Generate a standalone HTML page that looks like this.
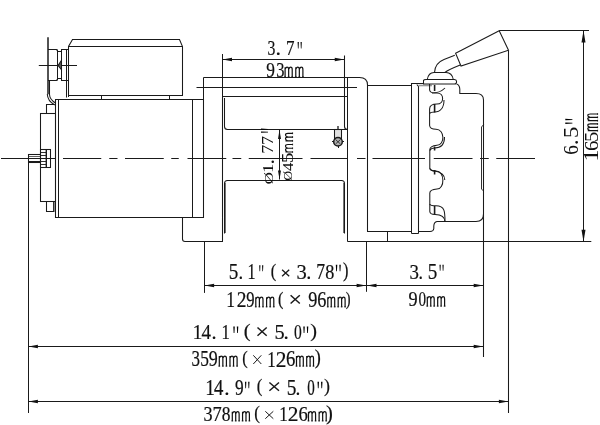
<!DOCTYPE html>
<html><head><meta charset="utf-8"><style>
html,body{margin:0;padding:0;background:#fff;}
svg{display:block;will-change:transform;}
text{font-family:"Liberation Serif",serif;font-size:2048px;fill:#111;stroke:#111;stroke-width:0.2px;vector-effect:non-scaling-stroke;}
.r text{stroke-width:0px;}
.g{fill:#000;}
.x{fill:none;stroke:#1a1a1a;}
.m{fill:none;stroke:#111;stroke-width:1.2;}
.mf{fill:none;stroke:#1a1a1a;stroke-width:0.8;}
</style></head><body>
<svg width="600" height="425" viewBox="0 0 600 425">
<g fill="none" stroke="#1a1a1a" stroke-width="1.05" stroke-linecap="butt">
<path d="M72.5 39.5 H179.5 L182.5 46.5 V95.5 H68.5 V46.5 Z" />
<line x1="68.5" y1="46.5" x2="182.5" y2="46.5"/>
<line x1="101.5" y1="95.5" x2="101.5" y2="99.5"/>
<line x1="169.5" y1="95.5" x2="169.5" y2="99.5"/>
<line x1="48" y1="37.2" x2="48" y2="94.2" stroke-width="1.5"/>
<path d="M49.5 80.5 V94.5 Q49.7 99.5 55.5 103" />
<path d="M47.3 94 Q47.5 101 54.8 105" />
<path d="M48 49.5 H56.5 L57.8 51.5 H61.5 V49.5 H68.5 M48 80.5 H56.5 L57.8 78.5 H61.5 V80.5 H68.5" />
<line x1="57.5" y1="49.5" x2="57.5" y2="80.5"/>
<line x1="61.5" y1="49.5" x2="61.5" y2="80.5"/>
<line x1="66.5" y1="49.5" x2="66.5" y2="97.5"/>
<line x1="68.5" y1="80.5" x2="68.5" y2="97"/>
<line x1="38.8" y1="65.5" x2="77" y2="65.5"/>
<path d="M61.5 60.2 L58.1 65.5 L61.5 69.8 Z" fill="#555"/>
<path d="M55.5 99.5 H203.5 V217.5 H55.5 Z" />
<line x1="58.5" y1="99.5" x2="58.5" y2="217.5"/>
<line x1="192.5" y1="99.5" x2="192.5" y2="217.5"/>
<path d="M54.5 104.5 H46.5 V113.5 H54.5" />
<path d="M54.5 201.5 H46.5 V211.5 H54.5" />
<path d="M53.8 202 V211" stroke-width="1.4"/>
<rect x="40.5" y="113.5" width="15" height="88" />
<rect x="28.5" y="154.5" width="12" height="8" />
<line x1="29" y1="156.5" x2="40" y2="156.5" stroke-width="0.7"/>
<line x1="29" y1="161.5" x2="40" y2="161.5" stroke-width="1.0"/>
<rect x="40.5" y="149.5" width="10" height="18" />
<line x1="46.3" y1="149.5" x2="46.3" y2="167.5" stroke-width="1.4"/>
<line x1="40.5" y1="152.5" x2="46" y2="152.5" stroke-width="0.9"/>
<line x1="40.5" y1="155.5" x2="46" y2="155.5" stroke-width="0.9"/>
<line x1="40.5" y1="161.5" x2="46" y2="161.5" stroke-width="0.9"/>
<line x1="40.5" y1="164.5" x2="46" y2="164.5" stroke-width="0.9"/>
<line x1="28.5" y1="162.5" x2="28.5" y2="413"/>
<path d="M203.5 217.5 H182.5 V239 Q182.5 241.5 185 241.5 H222.5 V97" />
<line x1="203.5" y1="77.5" x2="203.5" y2="217.5"/>
<path d="M203.5 77.5 H359.5 Q367.5 77.5 367.5 85 V231.5 H411.5" />
<line x1="196.5" y1="87.5" x2="357" y2="87.5"/>
<line x1="222.5" y1="54" x2="222.5" y2="241.5"/>
<line x1="222.5" y1="96.5" x2="347.5" y2="96.5"/>
<path d="M224.5 98 V126.5 Q224.5 129.5 227.5 129.5 H347.5" />
<path d="M344.5 55.5 V126.5 Q344.5 129.5 347.5 129.5" />
<path d="M224.5 233.5 V183.5 Q224.5 180.5 227.5 180.5 H341.5 Q344.5 180.5 344.5 183.5 V233.5" />
<line x1="225.5" y1="183" x2="225.5" y2="233" stroke-width="0.6"/>
<line x1="343.5" y1="183" x2="343.5" y2="233" stroke-width="0.6"/>
<line x1="347.5" y1="77.5" x2="347.5" y2="241.5"/>
<line x1="387.5" y1="231.5" x2="387.5" y2="241.5"/>
<line x1="367.5" y1="85.5" x2="411.5" y2="85.5"/>
<path d="M411.5 85.5 V83.5 H423" />
<line x1="411.5" y1="83.5" x2="411.5" y2="233.5"/>
<path d="M416.8 84.5 L418.5 86.5 V233.5" />
<line x1="411.5" y1="233.5" x2="418.5" y2="233.5"/>
<path d="M418.5 85.5 H432" stroke-width="1.6" stroke="#999"/>
<path d="M423.5 84 V80.5 Q423.8 79.5 426 79.5 H454.5 Q456.6 79.7 456.6 81.7 Q456.6 84 454.5 84 Z" />
<path d="M427.3 79.5 Q428.5 72.5 434 72.5 H446 Q452 72.5 453.3 79.5" />
<path d="M434.5 72.5 Q435 63 444 59.5 L454.8 55.3" />
<path d="M444.9 72.5 Q448 70 460.2 65.1" />
<path d="M455.6 53.3 L499.2 30.8 L508.5 50.2 L461 66 Z" />
<line x1="508.5" y1="50.2" x2="508.5" y2="413"/>
<path d="M456.6 84 Q459.6 85 459.8 89 V93.5 H476 Q483.5 93.5 483.5 100 V357" />
<path d="M483.5 124.75 L481.5 127 V189 L483.5 191" stroke-width="0.9"/>
<path d="M483.5 214 Q483.5 221.5 476 221.5 H437 Q434 222 433.8 226 V228.5 Q433.5 231.5 430 231.5 H418.5" />
<path d="M429.6 84 V90 Q430 93 435 93 H437 C444.5 93 444.5 104 437 104 Q429.6 104 429.6 109 V125.5 Q430 129.3 436 129.3 C445 129.3 445 145.3 437 145.3 Q429.8 146 429.8 150 V168.4 Q430 171 436 171 C445 171 445 189 437 189 Q429.8 189.5 429.8 193 V204 Q430 205.8 436 205.8 C445 205.8 445 212 445 221.8" />
<path d="M432 93 Q440 93 445 88" />
<path d="M429.6 113.5 Q430.5 112 434.6 112 C440 112 444 108 444 100" />
<path d="M429.8 150.5 Q431 148 434.6 148 C441 148 444.5 144 444.5 137" />
<path d="M429.8 168.4 Q431 171 434.6 171 C441 172 444.8 175 444.8 180" />
<path d="M429.8 204 V211.5 Q430 214.5 435 214.5 C441 214.5 444.8 217 445 221.8" />
<line x1="434.6" y1="85" x2="434.6" y2="91" stroke-width="1.6"/>
<line x1="434.6" y1="104" x2="434.6" y2="112.5" stroke-width="1.6"/>
<line x1="434.6" y1="146.5" x2="434.6" y2="150.5" stroke-width="1.6"/>
<line x1="434.6" y1="170" x2="434.6" y2="174.5" stroke-width="1.6"/>
<line x1="434.6" y1="206" x2="434.6" y2="214.5" stroke-width="1.6"/>
<line x1="347.5" y1="241.5" x2="591.3" y2="241.5"/>
<rect x="334.5" y="129.5" width="7" height="9" fill="#e0e0e0"/>
<line x1="338" y1="126" x2="338" y2="129.5" stroke-width="1.3"/>
<circle cx="338" cy="141.8" r="4.3" fill="#b0b0b0" stroke-width="1.5"/>
<path d="M335.5 139.5 L340.5 144 M340.5 139.5 L335.5 144" stroke-width="0.8"/>
<line x1="332" y1="141.5" x2="333.8" y2="141.5" stroke-width="1.0"/>
<line x1="342.2" y1="141.5" x2="344" y2="141.5" stroke-width="1.0"/>
<line x1="338.5" y1="146" x2="338.5" y2="148" stroke-width="1.0"/>
<line x1="1" y1="158.5" x2="55.3" y2="158.5"/>
<line x1="63" y1="158.5" x2="101.25" y2="158.5"/>
<line x1="109.25" y1="158.5" x2="117.5" y2="158.5"/>
<line x1="125" y1="158.5" x2="163.75" y2="158.5"/>
<line x1="171.25" y1="158.5" x2="178.75" y2="158.5"/>
<line x1="187.5" y1="158.5" x2="226.25" y2="158.5"/>
<line x1="232.5" y1="158.5" x2="241.25" y2="158.5"/>
<line x1="248.75" y1="158.5" x2="302.5" y2="158.5"/>
<line x1="310.5" y1="158.5" x2="347.5" y2="158.5"/>
<line x1="357" y1="158.5" x2="365.5" y2="158.5"/>
<line x1="372.5" y1="158.5" x2="425" y2="158.5"/>
<line x1="433.75" y1="158.5" x2="472.5" y2="158.5"/>
<line x1="480" y1="158.5" x2="488.75" y2="158.5"/>
<line x1="496.25" y1="158.5" x2="535" y2="158.5"/>
<line x1="222.5" y1="59.5" x2="344.25" y2="59.5"/>
<path d="M222.5 59.5 L232.0 57.8 L232.0 61.2 Z" fill="#111" stroke="none"/>
<path d="M344.25 59.5 L334.75 57.8 L334.75 61.2 Z" fill="#111" stroke="none"/>
<line x1="499.2" y1="30.5" x2="589" y2="30.5"/>
<line x1="583.5" y1="30.6" x2="583.5" y2="241.7"/>
<path d="M583.5 30.6 L581.5 42.6 L585.5 42.6 Z" fill="#111" stroke="none"/>
<path d="M583.5 241.7 L581.5 229.7 L585.5 229.7 Z" fill="#111" stroke="none"/>
<line x1="279.5" y1="130" x2="279.5" y2="179.5"/>
<path d="M279.5 130 L278.0 139 L281.0 139 Z" fill="#111" stroke="none"/>
<path d="M279.5 179.5 L278.0 170.5 L281.0 170.5 Z" fill="#111" stroke="none"/>
<line x1="204.5" y1="241.7" x2="204.5" y2="292.9"/>
<line x1="366.5" y1="241.7" x2="366.5" y2="291.8"/>
<line x1="204.2" y1="285.5" x2="483.2" y2="285.5"/>
<path d="M204.6 285.5 L214.1 283.8 L214.1 287.2 Z" fill="#111" stroke="none"/>
<path d="M366.1 285.5 L356.6 283.8 L356.6 287.2 Z" fill="#111" stroke="none"/>
<path d="M367 285.5 L376.5 283.8 L376.5 287.2 Z" fill="#111" stroke="none"/>
<path d="M483.2 285.5 L473.7 283.8 L473.7 287.2 Z" fill="#111" stroke="none"/>
<line x1="28.4" y1="346.5" x2="483.2" y2="346.5"/>
<path d="M28.4 346.5 L37.9 344.8 L37.9 348.2 Z" fill="#111" stroke="none"/>
<path d="M483.2 346.5 L473.7 344.8 L473.7 348.2 Z" fill="#111" stroke="none"/>
<line x1="28.4" y1="401.5" x2="508.4" y2="401.5"/>
<path d="M28.4 401.5 L37.9 399.8 L37.9 403.2 Z" fill="#111" stroke="none"/>
<path d="M508.4 401.5 L498.9 399.8 L498.9 403.2 Z" fill="#111" stroke="none"/>
</g>
<g>
<text transform="matrix(0.007683 0 0 0.010029 267.547 55.099)">3</text>
<text transform="matrix(0.010744 0 0 0.010744 275.550 54.988)">.</text>
<text transform="matrix(0.008313 0 0 0.010291 285.878 55.300)">7</text>
<path class="g" d="M297.60 42.00 h1.26 l-0.31 6.50 h-0.63 Z M300.54 42.00 h1.26 l-0.31 6.50 h-0.63 Z"/>
<text transform="matrix(0.008467 0 0 0.010683 266.341 76.986)">9</text>
<text transform="matrix(0.008038 0 0 0.010683 276.212 76.986)">3</text>
<path class="m" d="M285.10 77.20 V67.20 M285.10 69.20 Q286.17 67.00 287.24 67.20 Q288.66 67.20 288.66 69.70 V77.20 M288.66 69.20 Q289.73 67.00 290.80 67.20 Q292.22 67.20 292.22 69.70 V77.20 M295.78 77.20 V67.20 M295.78 69.20 Q296.85 67.00 297.92 67.20 Q299.34 67.20 299.34 69.70 V77.20 M299.34 69.20 Q300.41 67.00 301.48 67.20 Q302.90 67.20 302.90 69.70 V77.20 "/><path class="mf" d="M284.20 76.80 h1.8 M287.76 76.80 h1.8 M291.32 76.80 h1.8 M294.88 76.80 h1.8 M298.44 76.80 h1.8 M302.00 76.80 h1.8"/>
<text transform="matrix(0.009333 0 0 0.010801 228.789 278.784)">5</text>
<text transform="matrix(0.009091 0 0 0.010744 238.573 278.688)">.</text>
<text transform="matrix(0.007906 0 0 0.010873 247.477 279.000)">1</text>
<path class="g" d="M259.20 265.30 h1.23 l-0.31 6.00 h-0.62 Z M262.07 265.30 h1.23 l-0.31 6.00 h-0.62 Z"/>
<text transform="matrix(0.007985 0 0 0.009585 270.781 276.921)">(</text>
<path class="x" stroke-width="1.3" d="M282.10 269.70 L289.20 276.30 M289.20 269.70 L282.10 276.30"/>
<text transform="matrix(0.010047 0 0 0.010683 296.615 278.786)">3</text>
<text transform="matrix(0.009917 0 0 0.010744 306.161 278.688)">.</text>
<text transform="matrix(0.008554 0 0 0.010962 316.245 279.000)">7</text>
<text transform="matrix(0.008871 0 0 0.010637 325.208 278.787)">8</text>
<path class="g" d="M335.80 264.70 h1.50 l-0.38 6.60 h-0.75 Z M339.30 264.70 h1.50 l-0.38 6.60 h-0.75 Z"/>
<text transform="matrix(0.007985 0 0 0.009855 342.973 276.803)">)</text>
<text transform="matrix(0.008599 0 0 0.010947 226.252 307.200)">1</text>
<text transform="matrix(0.009501 0 0 0.010914 236.745 307.200)">2</text>
<text transform="matrix(0.008124 0 0 0.010756 246.264 306.985)">9</text>
<path class="m" d="M255.80 307.20 V297.14 M255.80 299.14 Q256.88 296.94 257.96 297.14 Q259.40 297.14 259.40 299.64 V307.20 M259.40 299.14 Q260.48 296.94 261.56 297.14 Q263.00 297.14 263.00 299.64 V307.20 M266.60 307.20 V297.14 M266.60 299.14 Q267.68 296.94 268.76 297.14 Q270.20 297.14 270.20 299.64 V307.20 M270.20 299.14 Q271.28 296.94 272.36 297.14 Q273.80 297.14 273.80 299.64 V307.20 "/><path class="mf" d="M254.90 306.80 h1.8 M258.50 306.80 h1.8 M262.10 306.80 h1.8 M265.70 306.80 h1.8 M269.30 306.80 h1.8 M272.90 306.80 h1.8"/>
<text transform="matrix(0.007985 0 0 0.009478 277.881 305.168)">(</text>
<path class="x" stroke-width="1.5" d="M290.60 295.20 L299.80 303.50 M299.80 295.20 L290.60 303.50"/>
<text transform="matrix(0.008924 0 0 0.010756 308.311 306.985)">9</text>
<text transform="matrix(0.008914 0 0 0.010756 317.316 306.985)">6</text>
<path class="m" d="M327.80 307.20 V297.14 M327.80 299.14 Q328.84 296.94 329.88 297.14 Q331.26 297.14 331.26 299.64 V307.20 M331.26 299.14 Q332.30 296.94 333.34 297.14 Q334.72 297.14 334.72 299.64 V307.20 M338.18 307.20 V297.14 M338.18 299.14 Q339.22 296.94 340.26 297.14 Q341.64 297.14 341.64 299.64 V307.20 M341.64 299.14 Q342.68 296.94 343.72 297.14 Q345.10 297.14 345.10 299.64 V307.20 "/><path class="mf" d="M326.90 306.80 h1.8 M330.36 306.80 h1.8 M333.82 306.80 h1.8 M337.28 306.80 h1.8 M340.74 306.80 h1.8 M344.20 306.80 h1.8"/>
<text transform="matrix(0.007034 0 0 0.009478 345.836 305.168)">)</text>
<text transform="matrix(0.009220 0 0 0.010683 409.596 278.786)">3</text>
<text transform="matrix(0.008678 0 0 0.010744 418.529 278.688)">.</text>
<text transform="matrix(0.009333 0 0 0.010801 427.789 278.784)">5</text>
<path class="g" d="M439.50 264.70 h1.26 l-0.31 6.10 h-0.63 Z M442.44 264.70 h1.26 l-0.31 6.10 h-0.63 Z"/>
<text transform="matrix(0.008924 0 0 0.010538 408.511 306.289)">9</text>
<text transform="matrix(0.007373 0 0 0.010492 418.425 306.290)">0</text>
<path class="m" d="M427.30 306.50 V296.64 M427.30 298.64 Q428.34 296.44 429.38 296.64 Q430.76 296.64 430.76 299.14 V306.50 M430.76 298.64 Q431.80 296.44 432.84 296.64 Q434.22 296.64 434.22 299.14 V306.50 M437.68 306.50 V296.64 M437.68 298.64 Q438.72 296.44 439.76 296.64 Q441.14 296.64 441.14 299.14 V306.50 M441.14 298.64 Q442.18 296.44 443.22 296.64 Q444.60 296.64 444.60 299.14 V306.50 "/><path class="mf" d="M426.40 306.10 h1.8 M429.86 306.10 h1.8 M433.32 306.10 h1.8 M436.78 306.10 h1.8 M440.24 306.10 h1.8 M443.70 306.10 h1.8"/>
<text transform="matrix(0.009293 0 0 0.010651 192.827 339.100)">1</text>
<text transform="matrix(0.009244 0 0 0.010682 201.430 339.100)">4</text>
<text transform="matrix(0.009917 0 0 0.010744 211.561 338.788)">.</text>
<text transform="matrix(0.008183 0 0 0.010651 221.427 339.100)">1</text>
<path class="g" d="M233.30 326.50 h1.50 l-0.38 6.50 h-0.75 Z M236.80 326.50 h1.50 l-0.38 6.50 h-0.75 Z"/>
<text transform="matrix(0.010076 0 0 0.009208 243.793 337.185)">(</text>
<path class="x" stroke-width="1.5" d="M257.50 327.50 L266.70 335.80 M266.70 327.50 L257.50 335.80"/>
<text transform="matrix(0.009939 0 0 0.010580 274.417 338.888)">5</text>
<text transform="matrix(0.010331 0 0 0.010744 283.605 338.788)">.</text>
<text transform="matrix(0.007604 0 0 0.010420 294.107 338.892)">0</text>
<path class="g" d="M303.30 326.50 h1.50 l-0.38 6.50 h-0.75 Z M306.80 326.50 h1.50 l-0.38 6.50 h-0.75 Z"/>
<text transform="matrix(0.009886 0 0 0.009316 310.348 337.238)">)</text>
<text transform="matrix(0.008274 0 0 0.011119 191.589 366.278)">3</text>
<text transform="matrix(0.008485 0 0 0.011242 200.190 366.275)">5</text>
<text transform="matrix(0.008810 0 0 0.011119 208.819 366.278)">9</text>
<path class="m" d="M219.30 366.50 V356.10 M219.30 358.10 Q220.37 355.90 221.44 356.10 Q222.86 356.10 222.86 358.60 V366.50 M222.86 358.10 Q223.93 355.90 225.00 356.10 Q226.42 356.10 226.42 358.60 V366.50 M229.98 366.50 V356.10 M229.98 358.10 Q231.05 355.90 232.12 356.10 Q233.54 356.10 233.54 358.60 V366.50 M233.54 358.10 Q234.61 355.90 235.68 356.10 Q237.10 356.10 237.10 358.60 V366.50 "/><path class="mf" d="M218.40 366.10 h1.8 M221.96 366.10 h1.8 M225.52 366.10 h1.8 M229.08 366.10 h1.8 M232.64 366.10 h1.8 M236.20 366.10 h1.8"/>
<text transform="matrix(0.007985 0 0 0.009478 242.181 364.068)">(</text>
<path class="x" stroke-width="1.0" d="M253.30 355.30 L261.30 364.00 M261.30 355.30 L253.30 364.00"/>
<text transform="matrix(0.008322 0 0 0.011317 267.202 366.500)">1</text>
<text transform="matrix(0.010475 0 0 0.011283 275.757 366.500)">2</text>
<text transform="matrix(0.009143 0 0 0.011119 285.895 366.278)">6</text>
<path class="m" d="M296.50 366.50 V356.10 M296.50 358.10 Q297.52 355.90 298.54 356.10 Q299.90 356.10 299.90 358.60 V366.50 M299.90 358.10 Q300.92 355.90 301.94 356.10 Q303.30 356.10 303.30 358.60 V366.50 M306.70 366.50 V356.10 M306.70 358.10 Q307.72 355.90 308.74 356.10 Q310.10 356.10 310.10 358.60 V366.50 M310.10 358.10 Q311.12 355.90 312.14 356.10 Q313.50 356.10 313.50 358.60 V366.50 "/><path class="mf" d="M295.60 366.10 h1.8 M299.00 366.10 h1.8 M302.40 366.10 h1.8 M305.80 366.10 h1.8 M309.20 366.10 h1.8 M312.60 366.10 h1.8"/>
<text transform="matrix(0.008935 0 0 0.010070 314.710 364.309)">)</text>
<text transform="matrix(0.009431 0 0 0.011095 205.202 395.100)">1</text>
<text transform="matrix(0.009139 0 0 0.011128 214.034 395.100)">4</text>
<text transform="matrix(0.010331 0 0 0.010744 224.205 394.788)">.</text>
<text transform="matrix(0.008467 0 0 0.010901 235.041 394.882)">9</text>
<path class="g" d="M245.00 381.70 h1.35 l-0.34 6.60 h-0.67 Z M248.15 381.70 h1.35 l-0.34 6.60 h-0.67 Z"/>
<text transform="matrix(0.008365 0 0 0.009047 256.647 392.356)">(</text>
<path class="x" stroke-width="1.5" d="M269.40 382.50 L279.00 390.80 M279.00 382.50 L269.40 390.80"/>
<text transform="matrix(0.009455 0 0 0.011021 286.675 394.880)">5</text>
<text transform="matrix(0.009504 0 0 0.010744 295.417 394.788)">.</text>
<text transform="matrix(0.007373 0 0 0.010854 307.225 394.883)">0</text>
<path class="g" d="M317.50 381.70 h1.50 l-0.38 6.60 h-0.75 Z M321.00 381.70 h1.50 l-0.38 6.60 h-0.75 Z"/>
<text transform="matrix(0.008745 0 0 0.009693 324.123 392.474)">)</text>
<text transform="matrix(0.008865 0 0 0.010247 203.531 421.095)">3</text>
<text transform="matrix(0.009036 0 0 0.010515 212.480 421.300)">7</text>
<text transform="matrix(0.008525 0 0 0.010203 221.835 421.096)">8</text>
<path class="m" d="M232.30 421.30 V411.71 M232.30 413.71 Q233.33 411.51 234.35 411.71 Q235.72 411.71 235.72 414.21 V421.30 M235.72 413.71 Q236.75 411.51 237.77 411.71 Q239.14 411.71 239.14 414.21 V421.30 M242.56 421.30 V411.71 M242.56 413.71 Q243.59 411.51 244.61 411.71 Q245.98 411.71 245.98 414.21 V421.30 M245.98 413.71 Q247.01 411.51 248.03 411.71 Q249.40 411.71 249.40 414.21 V421.30 "/><path class="mf" d="M231.40 420.90 h1.8 M234.82 420.90 h1.8 M238.24 420.90 h1.8 M241.66 420.90 h1.8 M245.08 420.90 h1.8 M248.50 420.90 h1.8"/>
<text transform="matrix(0.008365 0 0 0.008778 254.147 419.373)">(</text>
<path class="x" stroke-width="1.0" d="M265.30 411.30 L273.30 418.70 M273.30 411.30 L265.30 418.70"/>
<text transform="matrix(0.008322 0 0 0.010429 279.202 421.300)">1</text>
<text transform="matrix(0.010475 0 0 0.010398 287.757 421.300)">2</text>
<text transform="matrix(0.009143 0 0 0.010247 298.495 421.095)">6</text>
<path class="m" d="M308.50 421.30 V411.71 M308.50 413.71 Q309.56 411.51 310.62 411.71 Q312.04 411.71 312.04 414.21 V421.30 M312.04 413.71 Q313.10 411.51 314.16 411.71 Q315.58 411.71 315.58 414.21 V421.30 M319.12 421.30 V411.71 M319.12 413.71 Q320.18 411.51 321.24 411.71 Q322.66 411.71 322.66 414.21 V421.30 M322.66 413.71 Q323.72 411.51 324.78 411.71 Q326.20 411.71 326.20 414.21 V421.30 "/><path class="mf" d="M307.60 420.90 h1.8 M311.14 420.90 h1.8 M314.68 420.90 h1.8 M318.22 420.90 h1.8 M321.76 420.90 h1.8 M325.30 420.90 h1.8"/>
<text transform="matrix(0.010076 0 0 0.010070 326.035 419.609)">)</text>
<g class="r" transform="rotate(-90)"><text transform="matrix(0.008391 0 0 0.006570 -184.605 272.939)">Ø</text>
<text transform="matrix(0.009015 0 0 0.007544 -173.023 273.300)">1</text>
<text transform="matrix(0.010744 0 0 0.010744 -164.450 274.088)">.</text>
<text transform="matrix(0.008795 0 0 0.007979 -153.687 273.300)">7</text>
<text transform="matrix(0.008795 0 0 0.007979 -144.887 273.300)">7</text>
<path class="g" d="M-132.80 261.00 h1.26 l-0.32 7.00 h-0.63 Z M-129.86 261.00 h1.26 l-0.32 7.00 h-0.63 Z"/></g>
<g class="r" transform="rotate(-90)"><text transform="matrix(0.006712 0 0 0.006570 -180.764 291.939)">Ø</text>
<text transform="matrix(0.008403 0 0 0.007567 -171.036 293.000)">4</text>
<text transform="matrix(0.010667 0 0 0.007715 -163.269 292.846)">5</text>
<path class="m" d="M-152.00 293.00 V285.50 M-152.00 287.50 Q-150.88 285.30 -149.76 285.50 Q-148.26 285.50 -148.26 288.00 V293.00 M-148.26 287.50 Q-147.14 285.30 -146.02 285.50 Q-144.52 285.50 -144.52 288.00 V293.00 M-140.78 293.00 V285.50 M-140.78 287.50 Q-139.66 285.30 -138.54 285.50 Q-137.04 285.50 -137.04 288.00 V293.00 M-137.04 287.50 Q-135.92 285.30 -134.80 285.50 Q-133.30 285.50 -133.30 288.00 V293.00 "/><path class="mf" d="M-152.90 292.60 h1.8 M-149.16 292.60 h1.8 M-145.42 292.60 h1.8 M-141.68 292.60 h1.8 M-137.94 292.60 h1.8 M-134.20 292.60 h1.8"/></g>
<g class="r" transform="rotate(-90)"><text transform="matrix(0.009371 0 0 0.010102 -154.625 578.098)">6</text>
<text transform="matrix(0.011570 0 0 0.011570 -145.362 578.464)">.</text>
<text transform="matrix(0.011030 0 0 0.009919 -138.013 578.102)">5</text>
<path class="g" d="M-124.00 565.30 h1.56 l-0.39 7.10 h-0.78 Z M-120.36 565.30 h1.56 l-0.39 7.10 h-0.78 Z"/></g>
<g class="r" transform="rotate(-90)"><text transform="matrix(0.011789 0 0 0.009763 -161.422 598.000)">1</text>
<text transform="matrix(0.010171 0 0 0.009593 -150.995 597.808)">6</text>
<text transform="matrix(0.010061 0 0 0.009699 -141.997 597.806)">5</text>
<path class="m" d="M-130.60 598.00 V587.80 M-130.60 589.80 Q-129.60 587.60 -128.61 587.80 Q-127.28 587.80 -127.28 590.30 V598.00 M-127.28 589.80 Q-126.28 587.60 -125.29 587.80 Q-123.96 587.80 -123.96 590.30 V598.00 M-120.64 598.00 V587.80 M-120.64 589.80 Q-119.64 587.60 -118.65 587.80 Q-117.32 587.80 -117.32 590.30 V598.00 M-117.32 589.80 Q-116.32 587.60 -115.33 587.80 Q-114.00 587.80 -114.00 590.30 V598.00 "/><path class="mf" d="M-131.50 597.60 h1.8 M-128.18 597.60 h1.8 M-124.86 597.60 h1.8 M-121.54 597.60 h1.8 M-118.22 597.60 h1.8 M-114.90 597.60 h1.8"/></g>
</g>
</svg>
</body></html>
